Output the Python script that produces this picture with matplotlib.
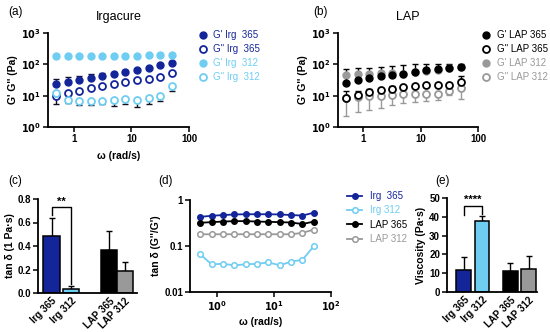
import numpy as np
import matplotlib
matplotlib.use("Agg")
import matplotlib.pyplot as plt

plt.rcParams['font.family'] = ['Liberation Sans', 'DejaVu Sans']

# ---- data ----
omega = [0.5, 0.79, 1.26, 2.0, 3.15, 5.0, 7.9, 12.6, 20.0, 31.5, 50.0]

# (a) Irgacure
gp_irg365 = [23.8, 28.3, 32, 36.2, 43, 50, 56.6, 67.3, 78, 93, 110]
gp_irg365_err = [10.7, 10.7, 12, 11.4, 9.5, 8, 7, 6, 5, 5, 5]
gpp_irg365 = [10, 12.2, 14.5, 17.7, 20.9, 23.8, 26.9, 30.5, 34.5, 39, 54]
gpp_irg365_err = [1.5, 1.5, 1.8, 1.8, 2, 2, 2, 2, 2.5, 3, 4]
gp_irg312 = [180, 180, 180, 182, 182, 183, 185, 188, 192, 198, 205]
gpp_irg312 = [12.2, 7.3, 6.9, 6.6, 6.9, 7.3, 7.8, 7.3, 8.4, 9.5, 20.9]
gpp_irg312_err = [6.8, 1.5, 1.8, 1.6, 1.5, 2.5, 2.4, 3.1, 3.0, 2.9, 6.4]

# (b) LAP
gp_lap365 = [25.7, 31.2, 35.4, 41, 45.3, 50, 56.6, 64, 69, 78, 82]
gp_lap365_err = [43, 43, 43, 41, 41, 43, 43, 38, 35, 27, 21]
gpp_lap365 = [8.4, 10.8, 13.1, 14.9, 16.8, 19.1, 20.5, 21.5, 22, 22.6, 26.9]
gpp_lap365_err = [5.4, 3, 3, 3, 3, 3, 3, 3, 3, 3.5, 15]
gp_lap312 = [45, 47.6, 50, 51, 53, 50, 55, 62, 67, 75, 80]
gpp_lap312 = [8.4, 9.1, 9.5, 10, 10.8, 11, 11.5, 11.6, 11.6, 13.8, 17.7]
gpp_lap312_err = [6.1, 6.0, 6.0, 6.0, 5.7, 5.0, 5.2, 5.0, 4.2, 3.0, 9.8]

# (d) tan delta vs omega
tand_irg365 = [0.43, 0.454, 0.47, 0.485, 0.49, 0.49, 0.49, 0.485, 0.47, 0.46, 0.53]
tand_irg312 = [0.066, 0.040, 0.041, 0.038, 0.040, 0.041, 0.044, 0.038, 0.046, 0.050, 0.10]
tand_lap365 = [0.32, 0.33, 0.34, 0.347, 0.347, 0.34, 0.335, 0.33, 0.324, 0.30, 0.34]
tand_lap312 = [0.18, 0.18, 0.18, 0.18, 0.18, 0.18, 0.18, 0.18, 0.18, 0.193, 0.228]

# (c), (e) bars
groups = ['Irg 365', 'Irg 312', 'LAP 365', 'LAP 312']
tand_bar = [0.484, 0.037, 0.364, 0.19]
tand_bar_err = [0.156, 0.023, 0.166, 0.075]
visc = [11.9, 37.8, 11.0, 12.4]
visc_err = [6.5, 2.6, 4.6, 6.6]

navy = '#14259a'
light = '#6fcdf2'
gray = '#999999'
black = '#000000'
bar_colors = [navy, light, black, gray]

W, H = 550, 332
fig = plt.figure(figsize=(5.5, 3.32), dpi=100)


def add_ax(l, r, t, b):
    return fig.add_axes([l / W, 1 - b / H, (r - l) / W, (b - t) / H])


def style(ax):
    for s in ['top', 'right']:
        ax.spines[s].set_visible(False)
    for s in ['left', 'bottom']:
        ax.spines[s].set_linewidth(1.3)
    ax.tick_params(axis='both', which='major', length=3.5, width=1.1, labelsize=7, pad=1.5)
    ax.tick_params(which='minor', left=False, bottom=False)
    for lab in ax.get_xticklabels() + ax.get_yticklabels():
        lab.set_fontweight('bold')


ms = 5
mew = 1.3
pow_labels = [r'$\mathbf{10^0}$', r'$\mathbf{10^1}$', r'$\mathbf{10^2}$', r'$\mathbf{10^3}$']

# ---------- (a) ----------
ax = add_ax(48, 189, 33, 127)
ax.set_xscale('log'); ax.set_yscale('log')
ax.errorbar(omega, gp_irg365, yerr=[np.zeros(11), gp_irg365_err], fmt='none',
            ecolor='#101030', elinewidth=1, capsize=2.5, capthick=1, zorder=1)
ax.errorbar(omega, gpp_irg365, yerr=[gpp_irg365_err, np.zeros(11)], fmt='none',
            ecolor='#101030', elinewidth=1, capsize=2.5, capthick=1, zorder=1)
ax.errorbar(omega, gpp_irg312, yerr=[gpp_irg312_err, np.zeros(11)], fmt='none',
            ecolor='#101020', elinewidth=1, capsize=2.5, capthick=1, zorder=1)
ax.plot(omega, gp_irg365, 'o', color=navy, ms=ms, zorder=3, label="G' Irg  365")
ax.plot(omega, gpp_irg365, 'o', mfc='white', mec=navy, mew=mew, ms=ms, zorder=3, label="G'' Irg  365")
ax.plot(omega, gp_irg312, 'o', color=light, ms=ms, zorder=3, label="G' Irg  312")
ax.plot(omega, gpp_irg312, 'o', mfc='white', mec=light, mew=mew, ms=ms, zorder=3, label="G'' Irg  312")
ax.set_xlim(0.36, 100); ax.set_ylim(1, 1000)
ax.minorticks_off()
ax.set_xticks([1, 10, 100], ['1', '10', '100'])
ax.set_yticks([1, 10, 100, 1000], pow_labels)
style(ax)
ax.set_xlabel('ω (rad/s)', fontsize=7.5, fontweight='bold', labelpad=5)
ax.set_ylabel("G' G'' (Pa)", fontsize=7.5, fontweight='bold', labelpad=2)
ax.set_title('Irgacure', fontsize=9, pad=9)
ax.legend(loc='upper left', bbox_to_anchor=(199 / W, 1 - 30 / H), bbox_transform=fig.transFigure,
          frameon=False, fontsize=7, handlelength=0.8, handletextpad=0.6, labelspacing=0.42,
          borderpad=0, borderaxespad=0, labelcolor=[navy, navy, light, light])
fig.text(8 / W, 1 - 12 / H, '(a)', fontsize=8.5, va='center')

# ---------- (b) ----------
ax = add_ax(338, 478, 33, 127)
ax.set_xscale('log'); ax.set_yscale('log')
ax.plot(omega, gp_lap312, 'o', color=gray, ms=ms, zorder=2, label="G' LAP 312")
ax.errorbar(omega, gp_lap365, yerr=[np.zeros(11), gp_lap365_err], fmt='none',
            ecolor=black, elinewidth=1, capsize=2.5, capthick=1, zorder=1)
ax.errorbar(omega, gpp_lap365, yerr=[np.zeros(11), gpp_lap365_err], fmt='none',
            ecolor=black, elinewidth=1, capsize=2.5, capthick=1, zorder=1)
ax.errorbar(omega, gpp_lap312, yerr=[gpp_lap312_err, np.zeros(11)], fmt='none',
            ecolor=gray, elinewidth=1, capsize=2.5, capthick=1, zorder=1)
ax.plot(omega, gp_lap365, 'o', color=black, ms=ms, zorder=3, label="G' LAP 365")
ax.plot(omega, gpp_lap312, 'o', mfc='white', mec=gray, mew=mew, ms=ms, zorder=3, label="G'' LAP 312")
ax.plot(omega, gpp_lap365, 'o', mfc='white', mec=black, mew=mew, ms=ms, zorder=4, label="G'' LAP 365")
ax.set_xlim(0.36, 100); ax.set_ylim(1, 1000)
ax.minorticks_off()
ax.set_xticks([1, 10, 100], ['1', '10', '100'])
ax.set_yticks([1, 10, 100, 1000], pow_labels)
style(ax)
ax.set_ylabel("G' G'' (Pa)", fontsize=7.5, fontweight='bold', labelpad=2)
ax.set_title('LAP', fontsize=9, pad=9)
h = {l.get_label(): l for l in ax.get_lines()}
order = ["G' LAP 365", "G'' LAP 365", "G' LAP 312", "G'' LAP 312"]
ax.legend([h[k] for k in order], order, loc='upper left', bbox_to_anchor=(482 / W, 1 - 30 / H),
          bbox_transform=fig.transFigure, frameon=False, fontsize=7, handlelength=0.8,
          handletextpad=0.7, labelspacing=0.42, borderpad=0, borderaxespad=0,
          labelcolor=[black, black, gray, gray])
fig.text(313 / W, 1 - 12 / H, '(b)', fontsize=8.5, va='center')

# ---------- (c) ----------
xpos = [0, 1.05, 3.1, 3.95]
ax = add_ax(38, 137, 199, 293)
ax.bar(xpos, tand_bar, width=0.88, color=bar_colors, edgecolor='black', linewidth=1.1, zorder=2)
ax.errorbar(xpos, tand_bar, yerr=[np.zeros(4), tand_bar_err], fmt='none', ecolor='black',
            elinewidth=1, capsize=2.5, capthick=1, zorder=1)
ax.set_xlim(-0.73, 4.6); ax.set_ylim(0, 0.8)
ax.set_yticks([0, 0.2, 0.4, 0.6, 0.8], ['0.0', '0.2', '0.4', '0.6', '0.8'])
ax.set_xticks(xpos, groups, rotation=45, ha='right', rotation_mode='anchor')
style(ax)
ax.tick_params(axis='x', length=0, pad=2)
ax.plot([xpos[0], xpos[0], xpos[1], xpos[1]], [0.665, 0.73, 0.73, 0.075], color='black', lw=1)
ax.text((xpos[0] + xpos[1]) / 2, 0.735, '**', ha='center', va='bottom', fontsize=8, fontweight='bold')
ax.set_ylabel('tan δ (1 Pa·s)', fontsize=7.5, fontweight='bold', labelpad=2)
fig.text(8 / W, 1 - 181 / H, '(c)', fontsize=8.5, va='center')

# ---------- (d) ----------
ax = add_ax(190, 331, 200, 292)
ax.set_xscale('log'); ax.set_yscale('log')
ax.plot(omega, tand_irg365, '-o', color=navy, ms=4, lw=1.3, label='Irg  365')
ax.plot(omega, tand_irg312, '-o', color=light, mfc='white', mec=light, mew=1.1, ms=4, lw=1.3, label='Irg 312')
ax.plot(omega, tand_lap365, '-o', color=black, ms=4, lw=1.3, label='LAP 365')
ax.plot(omega, tand_lap312, '-o', color=gray, mfc='white', mec=gray, mew=1.1, ms=4, lw=1.3, label='LAP 312')
ax.set_xlim(0.33, 100); ax.set_ylim(0.01, 1)
ax.minorticks_off()
ax.set_xticks([1, 10, 100], pow_labels[:3])
ax.set_yticks([0.01, 0.1, 1], ['0.01', '0.1', '1'])
style(ax)
ax.set_xlabel('ω (rad/s)', fontsize=7.5, fontweight='bold', labelpad=3)
ax.set_ylabel("tan δ (G''/G')", fontsize=7.5, fontweight='bold', labelpad=2)
ax.legend(loc='upper left', bbox_to_anchor=(347 / W, 1 - 191 / H), bbox_transform=fig.transFigure,
          frameon=False, fontsize=7, handlelength=1.55, handletextpad=0.8, labelspacing=0.45,
          borderpad=0, borderaxespad=0, labelcolor=[navy, light, black, gray])
fig.text(158 / W, 1 - 181 / H, '(d)', fontsize=8.5, va='center')

# ---------- (e) ----------
xpos_e = [0, 1, 2.58, 3.6]
ax = add_ax(447, 537, 198, 292)
ax.bar(xpos_e, visc, width=0.83, color=bar_colors, edgecolor='black', linewidth=1.1, zorder=2)
ax.errorbar(xpos_e, visc, yerr=[np.zeros(4), visc_err], fmt='none', ecolor='black',
            elinewidth=1, capsize=2.5, capthick=1, zorder=1)
ax.set_xlim(-0.94, 4.05); ax.set_ylim(0, 50)
ax.set_yticks([0, 10, 20, 30, 40, 50])
ax.set_xticks(xpos_e, groups, rotation=45, ha='right', rotation_mode='anchor')
style(ax)
ax.tick_params(axis='x', length=0, pad=2)
ax.plot([xpos_e[0], xpos_e[0], xpos_e[1], xpos_e[1]], [41, 46, 46, 41.4], color='black', lw=1)
ax.text((xpos_e[0] + xpos_e[1]) / 2, 46.3, '****', ha='center', va='bottom', fontsize=8, fontweight='bold')
ax.set_ylabel('Viscosity (Pa·s)', fontsize=7.5, fontweight='bold', labelpad=2)
fig.text(435 / W, 1 - 181 / H, '(e)', fontsize=8.5, va='center')

fig.savefig('out.png', dpi=100)
